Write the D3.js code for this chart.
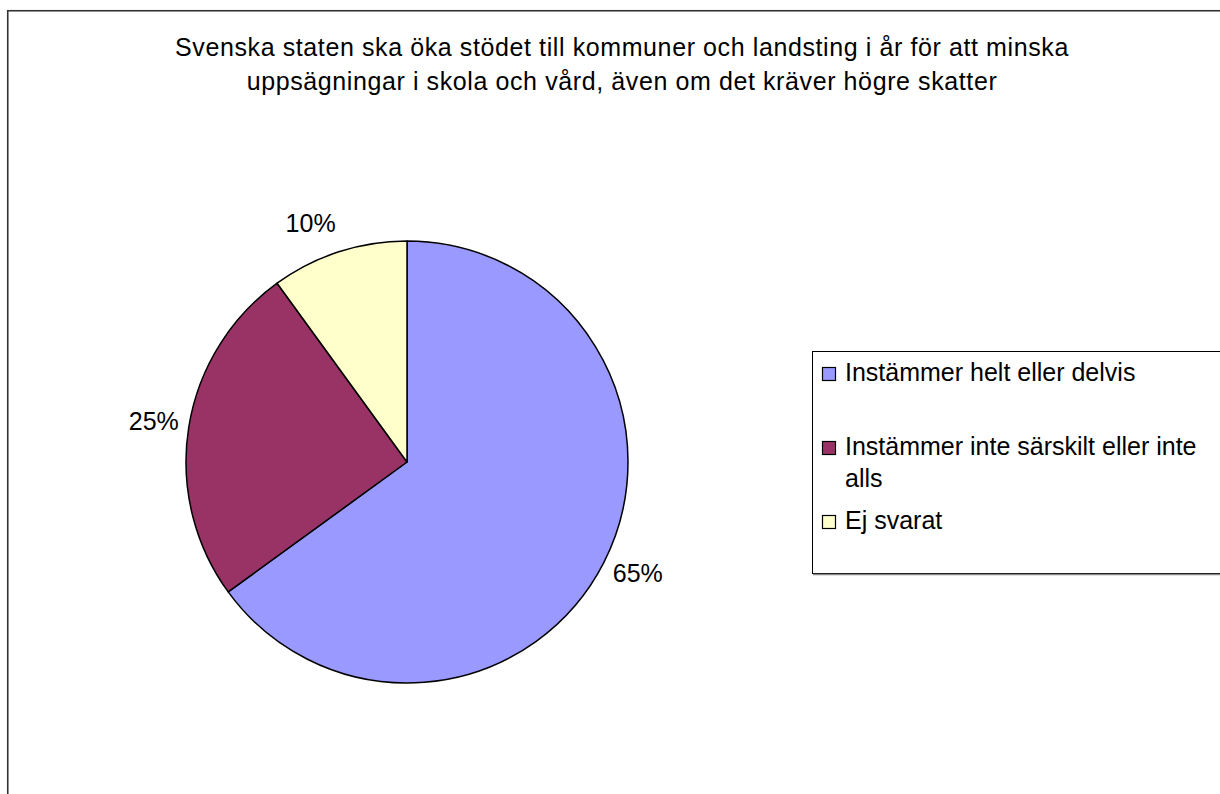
<!DOCTYPE html>
<html><head><meta charset="utf-8">
<script src="https://cdn.jsdelivr.net/npm/d3@7/dist/d3.min.js"></script>
<style>
html,body{margin:0;padding:0;background:#fff;overflow:hidden;}
text{font-family:"Liberation Sans",Arial,sans-serif;fill:#000;}
</style></head><body>
<svg id="chart" width="1220" height="794"></svg>
<script>
const titleLines = ["Svenska staten ska öka stödet till kommuner och landsting i år för att minska",
                    "uppsägningar i skola och vård, även om det kräver högre skatter"];
const categories = ["Instämmer helt eller delvis", "Instämmer inte särskilt eller inte alls", "Ej svarat"];
const legendLines = [["Instämmer helt eller delvis"], ["Instämmer inte särskilt eller inte", "alls"], ["Ej svarat"]];
const values = [65, 25, 10];
const labels = ["65%", "25%", "10%"];
const colors = ["#9999FF", "#993366", "#FFFFCC"];

const svg = d3.select("#chart");
// outer border
svg.append("rect").attr("x", 7.75).attr("y", 10.75).attr("width", 1230).attr("height", 800)
  .attr("fill", "#fff").attr("stroke", "#333").attr("stroke-width", 1.6);

// title
svg.append("g").selectAll("text").data(titleLines).join("text")
  .attr("x", 622).attr("y", (d, i) => 56 + i * 34)
  .attr("text-anchor", "middle").attr("font-size", 25).attr("letter-spacing", 0.6).text(d => d);

const cx = 407, cy = 462, r = 221;
const pie = d3.pie().sort(null).value(d => d)(values);
const arc = d3.arc().innerRadius(0).outerRadius(r);
const g = svg.append("g").attr("transform", `translate(${cx},${cy})`);
g.selectAll("path").data(pie).join("path")
  .attr("d", arc).attr("fill", (d, i) => colors[i])
  .attr("stroke", "#000").attr("stroke-width", 1.5).attr("stroke-linejoin", "round");

// data labels
const lr = 231;
g.selectAll("text.lbl").data(pie).join("text").attr("class", "lbl")
  .each(function(d, i) {
    const a = (d.startAngle + d.endAngle) / 2;
    const ux = Math.sin(a), uy = -Math.cos(a);
    d3.select(this)
      .attr("x", ux * lr)
      .attr("y", uy * lr + 6.9 + 18.1 * uy)
      .attr("text-anchor", ux >= 0 ? "start" : "end")
      .attr("font-size", 25)
      .text(labels[i]);
  });

// legend
const lg = svg.append("g");
lg.append("rect").attr("x", 812.5).attr("y", 351.5).attr("width", 420).attr("height", 222)
  .attr("fill", "#fff").attr("stroke", "#000").attr("stroke-width", 1);
lg.append("line").attr("x1", 813).attr("x2", 1230).attr("y1", 574.5).attr("y2", 574.5)
  .attr("stroke", "#888").attr("stroke-width", 1.5);
const itemBase = [381, 455, 529];
categories.forEach((c, i) => {
  lg.append("rect").attr("x", 822.5).attr("y", itemBase[i] - 13.5).attr("width", 13).attr("height", 13)
    .attr("fill", colors[i]).attr("stroke", "#000").attr("stroke-width", 1.2);
  legendLines[i].forEach((t, j) => {
    lg.append("text").attr("x", 845).attr("y", itemBase[i] + j * 32)
      .attr("font-size", 25).text(t);
  });
});
</script>
</body></html>
